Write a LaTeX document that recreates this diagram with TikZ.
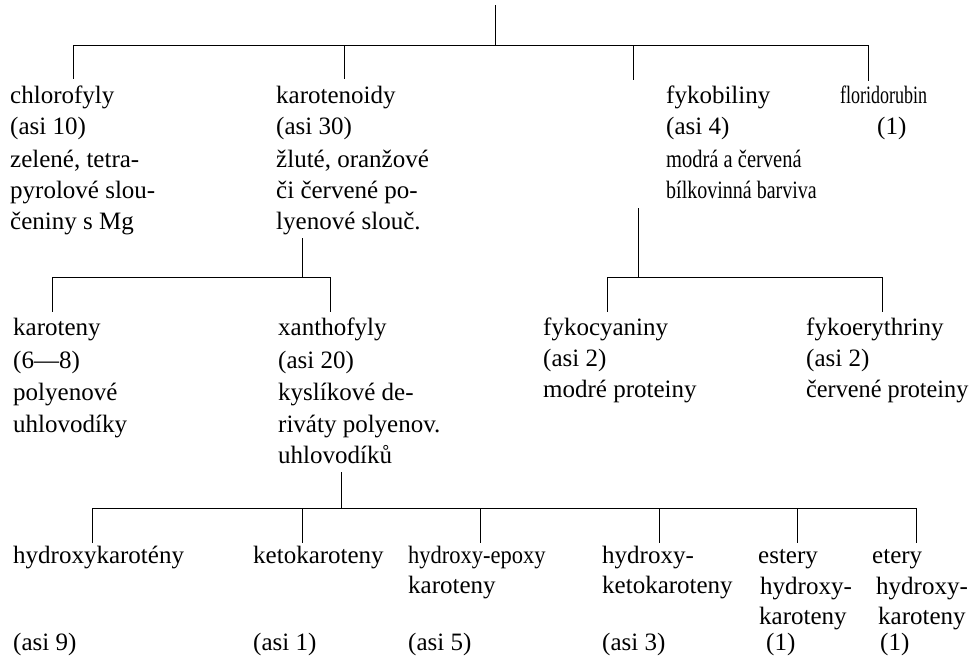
\documentclass[tikz,border=0pt]{standalone}
\usepackage{fontspec}
\setmainfont{Liberation Serif}
\begin{document}
\begin{tikzpicture}[x=1pt,y=-1pt,
  txt/.style={anchor=base west, inner sep=0pt, font=\fontsize{25}{31}\selectfont},
  conn/.style={line width=0.8pt, black}]
\useasboundingbox (0,0) rectangle (972,656);

% ---------- level 1 ----------
\node[txt] (chl)  at (10,103) {chlorofyly};
\node[txt] (chl2) at (10,134) {(asi 10)};
\node[txt] (chl3) at (10,167) {zelené, tetra-};
\node[txt] (chl4) at (10,198) {pyrolové slou-};
\node[txt] (chl5) at (10,229) {čeniny s Mg};

\node[txt] (kar)  at (276,103) {karotenoidy};
\node[txt] (kar2) at (276,134) {(asi 30)};
\node[txt] (kar3) at (276,167) {žluté, oranžové};
\node[txt] (kar4) at (276,198) {či červené po-};
\node[txt] (kar5) at (276,229) {lyenové slouč.};

\node[txt] (fyk)  at (666,103) {fykobiliny};
\node[txt] (fyk2) at (666,134) {(asi 4)};
\node[txt] (fyk3) at (666,167) {\scalebox{0.82}[1]{modrá a červená}};
\node[txt] (fyk4) at (666,198) {\scalebox{0.8}[1]{bílkovinná barviva}};

\node[txt] (flo)  at (840,103) {\scalebox{0.72}[1]{floridorubin}};
\node[txt] (flo2) at (877,134) {(1)};

% ---------- level 2 ----------
\node[txt] (krt)  at (13,335) {karoteny};
\node[txt] (krt2) at (13,368) {(6—8)};
\node[txt] (krt3) at (13,400) {polyenové};
\node[txt] (krt4) at (13,432) {uhlovodíky};

\node[txt] (xan)  at (278,335) {xanthofyly};
\node[txt] (xan2) at (278,368) {(asi 20)};
\node[txt] (xan3) at (278,400) {kyslíkové de-};
\node[txt] (xan4) at (278,432) {riváty polyenov.};
\node[txt] (xan5) at (278,463) {uhlovodíků};

\node[txt] (fcy)  at (543,335) {fykocyaniny};
\node[txt] (fcy2) at (543,366) {(asi 2)};
\node[txt] (fcy3) at (543,397) {modré proteiny};

\node[txt] (fer)  at (806,335) {fykoerythriny};
\node[txt] (fer2) at (806,366) {(asi 2)};
\node[txt] (fer3) at (806,397) {\scalebox{0.97}[1]{červené proteiny}};

% ---------- level 3 ----------
\node[txt] (hk)   at (13,563) {hydroxykarotény};
\node[txt] (hk2)  at (13,650) {(asi 9)};

\node[txt] (kk)   at (253,563) {ketokaroteny};
\node[txt] (kk2)  at (253,650) {(asi 1)};

\node[txt] (he)   at (408,563) {\scalebox{0.9}[1]{hydroxy-epoxy}};
\node[txt] (he2)  at (408,593) {karoteny};
\node[txt] (he3)  at (408,650) {(asi 5)};

\node[txt] (hkk)  at (602,563) {hydroxy-};
\node[txt] (hkk2) at (602,593) {ketokaroteny};
\node[txt] (hkk3) at (602,650) {(asi 3)};

\node[txt] (es)   at (758,563) {estery};
\node[txt] (es2)  at (760,594) {hydroxy-};
\node[txt] (es3)  at (759,624) {karoteny};
\node[txt] (es4)  at (766,650) {(1)};

\node[txt] (et)   at (872,563) {etery};
\node[txt] (et2)  at (876,594) {hydroxy-};
\node[txt] (et3)  at (878,624) {karoteny};
\node[txt] (et4)  at (880,650) {(1)};

% ---------- connectors ----------
\coordinate (top) at (495,5);
\coordinate (b1) at (495,45);
\coordinate (b1L) at (73,45);
\coordinate (b1R) at (868,45);
\coordinate (d1a) at (73,79);
\coordinate (d1b) at (344,79);
\coordinate (d1c) at (633,80);
\coordinate (d1d) at (868,81);
\draw[conn] (top) -- (b1);
\draw[conn] (b1L) -- (b1R);
\draw[conn] (b1L) -- (d1a);
\draw[conn] (d1b |- b1) -- (d1b);
\draw[conn] (d1c |- b1) -- (d1c);
\draw[conn] (b1R) -- (d1d);

% karotenoidy subtree
\coordinate (k0) at (302,238);
\coordinate (k1) at (302,277);
\coordinate (k1L) at (52,277);
\coordinate (k1R) at (330,277);
\coordinate (k2a) at (52,312);
\coordinate (k2b) at (330,312);
\draw[conn] (k0) -- (k1);
\draw[conn] (k1L) -- (k1R);
\draw[conn] (k1L) -- (k2a);
\draw[conn] (k1R) -- (k2b);

% fykobiliny subtree
\coordinate (f0) at (638,208);
\coordinate (f1) at (638,277);
\coordinate (f1L) at (607,277);
\coordinate (f1R) at (882,277);
\coordinate (f2a) at (607,312);
\coordinate (f2b) at (882,312);
\draw[conn] (f0) -- (f1);
\draw[conn] (f1L) -- (f1R);
\draw[conn] (f1L) -- (f2a);
\draw[conn] (f1R) -- (f2b);

% xanthofyly subtree
\coordinate (x0) at (341,472);
\coordinate (x1) at (341,508);
\coordinate (x1L) at (92,508);
\coordinate (x1R) at (916,508);
\draw[conn] (x0) -- (x1);
\draw[conn] (x1L) -- (x1R);
\foreach \xx/\nm in {92/xa,302/xb,480/xc,659/xd,797/xe,916/xf}{
  \coordinate (\nm) at (\xx,543);
  \draw[conn] (\nm |- x1) -- (\nm);
}
\end{tikzpicture}
\end{document}
